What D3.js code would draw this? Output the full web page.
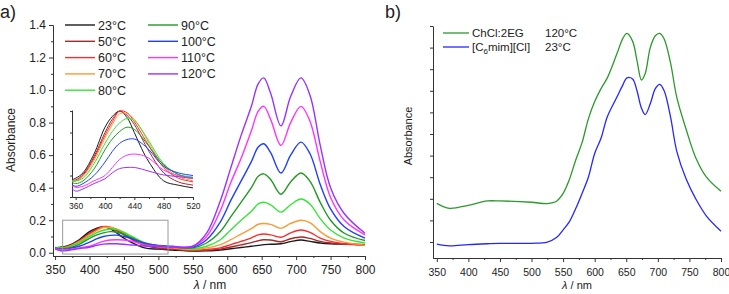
<!DOCTYPE html>
<html>
<head>
<meta charset="utf-8">
<script src="https://cdn.jsdelivr.net/npm/d3@7"></script>
<style>
  body { margin: 0; background: #fff; }
  svg text { font-family: "Liberation Sans", Arial, sans-serif; fill: #222; }
  .axis path, .axis line { stroke: #333; }
</style>
</head>
<body>
<svg id="chart" width="729" height="294"></svg>
<script>
// panel a: wavelengths (nm) and absorbance per temperature
var wlA = [350,360,370,385,400,410,420,430,440,450,460,480,500,520,550,570,590,605,620,635,645,653,663,678,692,707,720,735,750,770,800];
var t23  = [0.03,0.035,0.045,0.08,0.13,0.15,0.16,0.148,0.12,0.09,0.065,0.03,0.022,0.017,0.01,0.012,0.017,0.025,0.032,0.04,0.045,0.05,0.052,0.055,0.068,0.078,0.07,0.06,0.055,0.053,0.05];
var t50  = [0.03,0.032,0.042,0.075,0.12,0.145,0.16,0.152,0.135,0.11,0.085,0.045,0.028,0.022,0.013,0.015,0.022,0.035,0.048,0.062,0.074,0.08,0.078,0.068,0.086,0.097,0.088,0.07,0.06,0.055,0.05];
var t60  = [0.03,0.03,0.04,0.072,0.115,0.14,0.16,0.157,0.14,0.118,0.095,0.055,0.035,0.028,0.015,0.02,0.03,0.05,0.07,0.092,0.11,0.115,0.11,0.095,0.122,0.14,0.125,0.09,0.07,0.055,0.045];
var t70  = [0.03,0.03,0.038,0.068,0.11,0.135,0.155,0.155,0.145,0.125,0.1,0.058,0.038,0.03,0.02,0.03,0.05,0.08,0.115,0.148,0.175,0.18,0.174,0.15,0.18,0.2,0.185,0.13,0.09,0.065,0.045];
var t80  = [0.032,0.03,0.035,0.062,0.1,0.122,0.138,0.146,0.142,0.125,0.104,0.062,0.042,0.037,0.025,0.04,0.08,0.14,0.2,0.255,0.3,0.31,0.295,0.25,0.295,0.33,0.3,0.21,0.14,0.09,0.06];
var t90  = [0.03,0.025,0.03,0.052,0.088,0.108,0.122,0.13,0.126,0.112,0.094,0.06,0.042,0.035,0.03,0.06,0.13,0.22,0.31,0.4,0.47,0.485,0.45,0.36,0.435,0.49,0.44,0.31,0.2,0.12,0.075];
var t100 = [0.028,0.02,0.025,0.04,0.065,0.085,0.1,0.107,0.108,0.1,0.088,0.057,0.045,0.04,0.035,0.08,0.19,0.32,0.44,0.56,0.65,0.67,0.615,0.49,0.6,0.68,0.61,0.42,0.27,0.16,0.09];
var t110 = [0.025,0.018,0.02,0.03,0.04,0.055,0.07,0.078,0.08,0.078,0.072,0.05,0.04,0.035,0.04,0.1,0.26,0.43,0.58,0.75,0.87,0.9,0.82,0.66,0.8,0.9,0.81,0.56,0.34,0.2,0.11];
var t120 = [0.022,0.011,0.015,0.025,0.034,0.045,0.053,0.055,0.055,0.052,0.048,0.041,0.038,0.035,0.04,0.12,0.32,0.52,0.72,0.9,1.04,1.075,0.98,0.78,0.96,1.075,0.97,0.66,0.4,0.24,0.12];

var tempLabels = ["23°C","50°C","60°C","70°C","80°C","90°C","100°C","110°C","120°C"];
var tempColors = ["#1a1a1a","#a52a2a","#ff2a2a","#ff9933","#33e633","#229922","#1f3fff","#ff33ff","#9933ff"];
var tempSeries = [t23,t50,t60,t70,t80,t90,t100,t110,t120];

// zoom box drawn in panel a: [nm from, nm to, abs from, abs to]
var zoomBox = [361,514,-0.008,0.2];

// panel b
var wlB = [350,370,400,430,450,500,525,540,550,560,570,580,590,600,610,620,635,645,651,660,667,674,680,688,696,703,710,720,730,745,760,777,800];
var chcl  = [0.179,0.156,0.17,0.19,0.19,0.184,0.178,0.19,0.225,0.29,0.38,0.46,0.57,0.65,0.71,0.76,0.87,0.945,0.966,0.93,0.84,0.75,0.78,0.9,0.955,0.966,0.94,0.83,0.67,0.52,0.39,0.3,0.235];
var c6mim = [-0.01,-0.018,-0.012,-0.008,-0.006,-0.006,0.0,0.022,0.056,0.094,0.155,0.225,0.3,0.41,0.48,0.58,0.67,0.73,0.76,0.755,0.7,0.62,0.59,0.64,0.71,0.73,0.7,0.58,0.42,0.29,0.2,0.12,0.05];
var bLabels = ["ChCl:2EG","[C6mim][Cl]"];
var bTemps = ["120°C","23°C"];
var bColors = ["#2a9a2a","#2626ff"];

var svg = d3.select("#chart");

//----- panel a
var xA = d3.scaleLinear().domain([347,800]).range([53,365]);
var yA = d3.scaleLinear().domain([-0.02,1.4]).range([256,25]);

var gA = svg.append("g");

gA.append("g").attr("class","axis")
  .attr("transform","translate(0,"+yA(-0.02)+")")
  .call(d3.axisBottom(xA).tickValues(d3.range(375,800,50)).tickSize(2).tickSizeOuter(0).tickFormat(""));
gA.append("g").attr("class","axis")
  .attr("transform","translate(0,"+yA(-0.02)+")")
  .call(d3.axisBottom(xA).tickValues(d3.range(350,801,50)).tickSize(4).tickSizeOuter(0).tickFormat(d3.format("d")))
  .call(function(g){ g.selectAll("text").attr("font-size",12).attr("dy","0.95em"); });

gA.append("g").attr("class","axis")
  .attr("transform","translate("+xA(347)+",0)")
  .call(d3.axisLeft(yA).tickValues(d3.range(0.1,1.4,0.2)).tickSize(2).tickSizeOuter(0).tickFormat(""));
gA.append("g").attr("class","axis")
  .attr("transform","translate("+xA(347)+",0)")
  .call(d3.axisLeft(yA).tickValues(d3.range(0,1.41,0.2)).tickSize(4).tickSizeOuter(0).tickFormat(d3.format(".1f")))
  .call(function(g){ g.selectAll("text").attr("font-size",12); });
gA.selectAll(".domain").attr("stroke","#333");

gA.append("text").attr("transform","translate(15,140) rotate(-90)")
  .attr("text-anchor","middle").attr("font-size",12).text("Absorbance");
var ta = gA.append("text").attr("x",210).attr("y",289).attr("text-anchor","middle").attr("font-size",12);
ta.append("tspan").attr("font-style","italic").text("λ");
ta.append("tspan").text(" / nm");
svg.append("text").attr("x",0).attr("y",18).attr("font-size",18).text("a)");

var lineA = d3.line().x(function(d){return xA(d[0]);}).y(function(d){return yA(d[1]);})
  .curve(d3.curveCatmullRom.alpha(0.5));
tempSeries.forEach(function(s,i){
  gA.append("path").datum(wlA.map(function(w,j){return [w,s[j]];}))
    .attr("d",lineA).attr("fill","none").attr("stroke",tempColors[i]).attr("stroke-width",1.4);
});

gA.append("rect")
  .attr("x",xA(zoomBox[0])).attr("y",yA(zoomBox[3]))
  .attr("width",xA(zoomBox[1])-xA(zoomBox[0])).attr("height",yA(zoomBox[2])-yA(zoomBox[3]))
  .attr("fill","none").attr("stroke","#999").attr("stroke-width",1);

// legend a
tempLabels.forEach(function(t,i){
  var col = i<5 ? 0 : 1, row = i<5 ? i : i-5;
  var lx = col===0 ? 65 : 148, ly = 25 + row*16.3;
  gA.append("line").attr("x1",lx).attr("x2",lx+30).attr("y1",ly).attr("y2",ly)
    .attr("stroke",tempColors[i]).attr("stroke-width",1.4);
  gA.append("text").attr("x",lx+33).attr("y",ly+4.5).attr("font-size",12.5).text(t);
});

// inset
var xI = d3.scaleLinear().domain([355,520]).range([72,193]);
var yI = d3.scaleLinear().domain([0,0.162]).range([197,110]);
var gI = svg.append("g");
gI.append("clipPath").attr("id","clipI").append("rect")
  .attr("x",72).attr("y",100).attr("width",121).attr("height",97);
gI.append("g").attr("class","axis").attr("transform","translate(0,197)")
  .call(d3.axisBottom(xI).tickValues(d3.range(360,521,40)).tickSize(3).tickSizeOuter(0).tickFormat(d3.format("d")))
  .call(function(g){ g.selectAll("text").attr("font-size",8.5).attr("dy","0.7em"); });
gI.append("g").attr("class","axis").attr("transform","translate(0,197)")
  .call(d3.axisBottom(xI).tickValues(d3.range(380,520,40)).tickSize(2).tickSizeOuter(0).tickFormat(""));
gI.append("g").attr("class","axis").attr("transform","translate(72,0)")
  .call(d3.axisLeft(yI).tickValues([0,0.04,0.08,0.12,0.16]).tickSize(2).tickSizeOuter(0).tickFormat(""));
gI.selectAll(".domain").attr("stroke","#333");
var lineI = d3.line().x(function(d){return xI(d[0]);}).y(function(d){return yI(d[1]);})
  .curve(d3.curveCatmullRom.alpha(0.5));
tempSeries.forEach(function(s,i){
  gI.append("path").datum(wlA.slice(0,15).map(function(w,j){return [w,s[j]];}))
    .attr("clip-path","url(#clipI)")
    .attr("d",lineI).attr("fill","none").attr("stroke",tempColors[i]).attr("stroke-width",1);
});

//----- panel b
var xB = d3.scaleLinear().domain([344,800]).range([433,721]);
var yB = d3.scaleLinear().domain([-0.074,1.0]).range([258,26]);
var gB = svg.append("g");

gB.append("g").attr("class","axis").attr("transform","translate(0,258)")
  .call(d3.axisBottom(xB).tickValues(d3.range(375,800,50)).tickSize(2).tickSizeOuter(0).tickFormat(""));
gB.append("g").attr("class","axis").attr("transform","translate(0,258)")
  .call(d3.axisBottom(xB).tickValues(d3.range(350,801,50)).tickSize(4).tickSizeOuter(0).tickFormat(d3.format("d")))
  .call(function(g){ g.selectAll("text").attr("font-size",10.5).attr("dy","1.05em"); });
gB.append("g").attr("class","axis").attr("transform","translate(433,0)")
  .call(d3.axisLeft(yB).tickValues(d3.range(0,1.01,0.1)).tickSize(3).tickSizeOuter(0).tickFormat(""));
gB.selectAll(".domain").attr("stroke","#333");

gB.append("text").attr("transform","translate(412,136) rotate(-90)")
  .attr("text-anchor","middle").attr("font-size",11).text("Absorbance");
var tb = gB.append("text").attr("x",577).attr("y",289).attr("text-anchor","middle").attr("font-size",11);
tb.append("tspan").attr("font-style","italic").text("λ");
tb.append("tspan").text(" / nm");
svg.append("text").attr("x",385).attr("y",18).attr("font-size",18).text("b)");

var lineB = d3.line().x(function(d){return xB(d[0]);}).y(function(d){return yB(d[1]);})
  .curve(d3.curveCatmullRom.alpha(0.5));
[chcl,c6mim].forEach(function(s,i){
  gB.append("path").datum(wlB.map(function(w,j){return [w,s[j]];}))
    .attr("d",lineB).attr("fill","none").attr("stroke",bColors[i]).attr("stroke-width",1.3);
});

// legend b
bLabels.forEach(function(t,i){
  var ly = 33 + i*14;
  gB.append("line").attr("x1",443).attr("x2",469).attr("y1",ly).attr("y2",ly)
    .attr("stroke",bColors[i]).attr("stroke-width",1.3);
  var tx = gB.append("text").attr("x",472).attr("y",ly+4).attr("font-size",11.5);
  if (t.indexOf("C6")>=0) {
    tx.append("tspan").text("[C");
    tx.append("tspan").attr("font-size",8).attr("dy",3).text("6");
    tx.append("tspan").attr("dy",-3).text("mim][Cl]");
  } else {
    tx.text(t);
  }
  gB.append("text").attr("x",545).attr("y",ly+4).attr("font-size",11.5).text(bTemps[i]);
});
</script>
</body>
</html>
